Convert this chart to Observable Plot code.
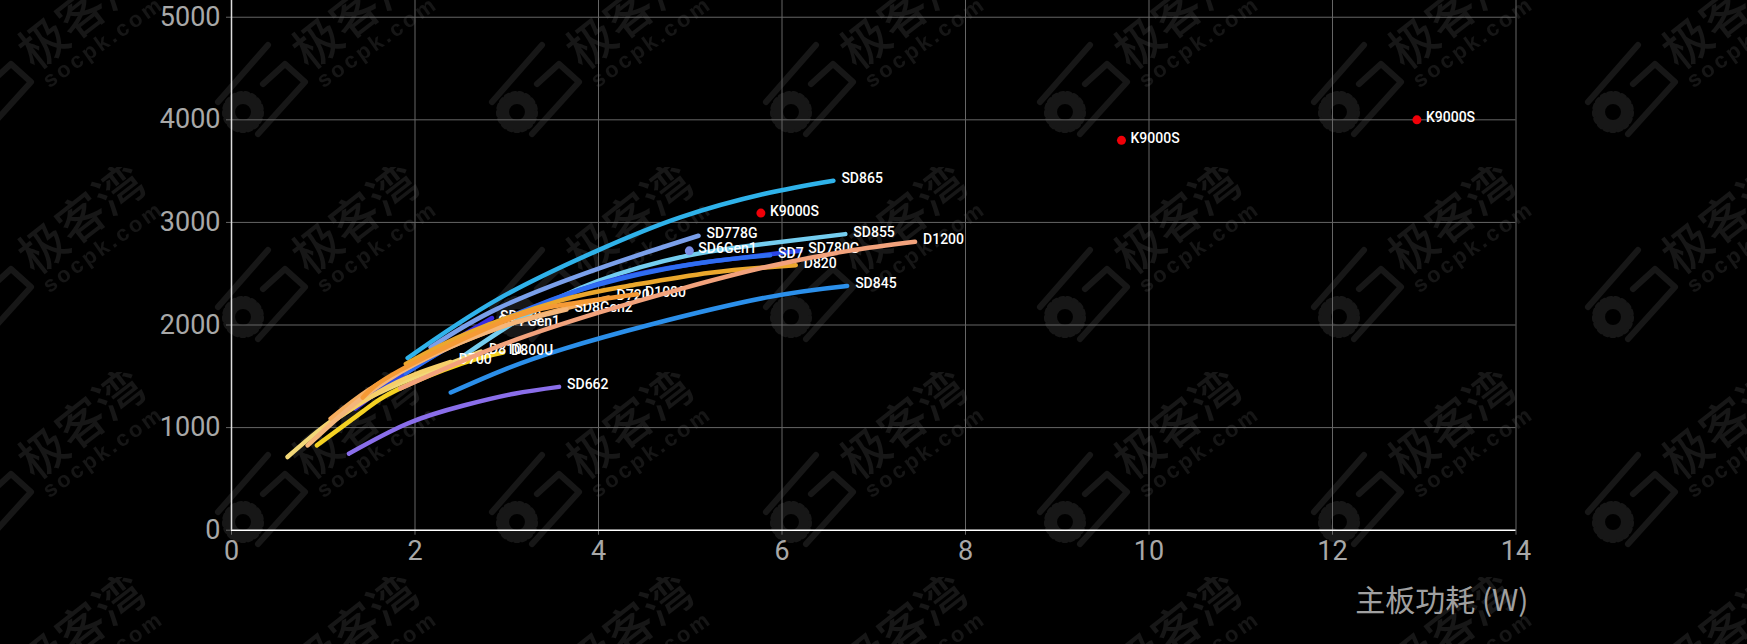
<!DOCTYPE html>
<html><head><meta charset="utf-8">
<script src="https://cdn.jsdelivr.net/npm/d3@7"></script>
<script src="https://cdn.jsdelivr.net/npm/@observablehq/plot@0.6"></script>
<style>
html,body{margin:0;padding:0;background:#000;width:1747px;height:644px;overflow:hidden}
#wm{position:absolute;left:0;top:0}
#chart{position:absolute;left:0;top:0}
#chart svg{background:transparent;display:block}
</style></head><body>
<svg id="wm" width="1747" height="644" aria-hidden="true">
<defs><pattern id="tile" width="274" height="205" patternUnits="userSpaceOnUse" x="-79" y="-38">
<g transform="translate(60,120)" fill="none" stroke="#171717" stroke-linecap="round" stroke-linejoin="round">
<path d="M13,-37L-37,20" stroke-width="6"/>
<path d="M8,2L30,-18L50,0L3,52" stroke-width="6"/>
<circle cx="-12" cy="30" r="13" stroke-width="10"/>
<circle cx="-12" cy="30" r="19" stroke-width="4" stroke-dasharray="3.5 3.5"/>
<text transform="translate(103,-65) rotate(-38)" text-anchor="middle" dominant-baseline="middle" font-family="Noto Sans CJK SC" font-size="48" font-weight="500" fill="#171717" stroke="none">极客湾</text>
<text transform="translate(123,-39) rotate(-35)" text-anchor="middle" dominant-baseline="middle" font-family="Liberation Sans" font-size="22" font-weight="700" letter-spacing="3" fill="#161616" stroke="none">socpk.com</text>
</g></pattern></defs>
<rect width="1747" height="644" fill="url(#tile)"/>
</svg>
<div id="chart"></div>
<script>
const xTicks = [0,2,4,6,8,10,12,14];
const yTicks = [0,1000,2000,3000,4000,5000];
const xTitle = "主板功耗 (W)";

const sd662 = [[1.28,746],[1.92,1040],[2.53,1215],[3.08,1330],[3.57,1397]];
const sd845 = [[2.39,1342],[3,1575],[3.63,1770],[4.57,2005],[5.82,2267],[6.71,2381]];
const sd865 = [[1.92,1678],[2.9,2250],[4,2730],[4.89,3049],[5.8,3277],[6.56,3407]];
const sd778g = [[2.17,1782],[2.9,2160],[4,2550],[5.09,2870]];
const sd888 = [[1.35,1186],[2.0,1610],[2.84,2068]];
const sd4gen1 = [[1.7,1420],[2.2,1730],[2.82,2010]];
const sd855 = [[2.53,1700],[3.2,2090],[4,2430],[4.96,2674],[5.8,2790],[6.69,2886]];
const sd780g = [[1.5,1300],[2.2,1700],[3,2060],[4,2400],[5,2590],[6.2,2723]];
const sd7 = [[1.9,1530],[2.6,1900],[3.3,2180],[4,2395],[5,2590],[5.87,2680]];
const d820 = [[1.9,1620],[2.6,1930],[3.59,2240],[4.32,2380],[5.22,2510],[6.15,2583]];
const d800u = [[0.93,827],[1.44,1163],[1.81,1370],[2.5,1620],[2.96,1731]];
const d810 = [[0.61,713],[1.05,1040],[1.5,1290],[2,1491],[2.72,1740]];
const d700 = [[1.0,1000],[1.6,1345],[2,1520],[2.39,1640]];
const d720 = [[1.08,1087],[1.5,1370],[2,1620],[2.5,1830],[3,2000],[3.5,2130],[4.11,2268]];
const d1080 = [[1.43,1293],[1.84,1560],[2.93,2023],[3.6,2195],[4.42,2300]];
const sd8gen2 = [[0.83,826],[1.41,1280],[2,1620],[2.5,1830],[3,2000],[3.65,2150]];
const d1200 = [[1.84,1381],[2.9,1790],[4,2120],[4.89,2350],[5.8,2560],[6.71,2720],[7.45,2811]];

const k9000s = [[5.77,3091],[9.7,3800],[12.92,4000]];
const sd6gen1 = [[4.99,2723]];

const seriesList = [
  ["SD662",sd662,"#8a6eea"],["SD845",sd845,"#2b8fea"],["SD865",sd865,"#2fb2ea"],
  ["SD778G",sd778g,"#7a9fea"],["SD888",sd888,"#3b2ce2"],["SD4 Gen1",sd4gen1,"#4d7ff0"],
  ["SD855",sd855,"#74cdf0"],["SD780G",sd780g,"#2b46e8"],["SD7",sd7,"#2f6df2"],
  ["D820",d820,"#eba72c"],["D800U",d800u,"#f5d222"],["D810",d810,"#f2d878"],
  ["D700",d700,"#f5cf6a"],["D720",d720,"#f6ad5e"],["SD8Gen2",sd8gen2,"#f5b67a"],
  ["D1080",d1080,"#f59a35"],["D1200",d1200,"#f2a27c"]
];
const toRows = (name,pts)=>pts.map(([x,y])=>({name,x,y}));
const label = "'Roboto',sans-serif";

const marks = [
  Plot.ruleX(xTicks.slice(1),{stroke:"#666",strokeWidth:1}),
  Plot.ruleY(yTicks.slice(1),{stroke:"#666",strokeWidth:1}),
  Plot.axisX({ticks:xTicks,tickSize:5,tickPadding:6,stroke:"#666",color:"#a8a8a8",fontSize:27,label:null,tickFormat:d=>String(d),fontFamily:label}),
  Plot.axisY({ticks:yTicks,tickSize:5,tickPadding:6,stroke:"#666",color:"#a8a8a8",fontSize:27,label:null,tickFormat:d=>String(d),fontFamily:label}),
  Plot.ruleX([0],{stroke:"#ddd",strokeWidth:1.5}),
  Plot.ruleY([0],{stroke:"#fff",strokeWidth:1.5}),
  ...seriesList.flatMap(([name,pts,color])=>[
    Plot.line(toRows(name,pts),{x:"x",y:"y",stroke:color,strokeWidth:4.5,strokeLinecap:"round",curve:"natural"}),
    Plot.text(toRows(name,pts).slice(-1),{x:"x",y:"y",text:"name",fill:"#fff",fontSize:14,fontWeight:500,fontFamily:label,textAnchor:"start",dx:8,dy:-2})
  ]),
  Plot.dot(toRows("SD6Gen1",sd6gen1),{x:"x",y:"y",r:4.5,fill:"#7b8fe8"}),
  Plot.text(toRows("SD6Gen1",sd6gen1),{x:"x",y:"y",text:"name",fill:"#fff",fontSize:14,fontWeight:500,fontFamily:label,textAnchor:"start",dx:9,dy:-2}),
  Plot.dot(toRows("K9000S",k9000s),{x:"x",y:"y",r:4.5,fill:"#f00008"}),
  Plot.text(toRows("K9000S",k9000s),{x:"x",y:"y",text:"name",fill:"#fff",fontSize:14,fontWeight:500,fontFamily:label,textAnchor:"start",dx:9,dy:-2}),
  Plot.text([xTitle],{frameAnchor:"bottom-right",text:d=>d,dx:12.5,dy:71,fill:"#a0a0a0",fontSize:30,fontFamily:"'Noto Sans CJK SC',sans-serif",textAnchor:"end",lineAnchor:"middle"})
];

const chart = Plot.plot({
  width:1747,height:644,
  marginLeft:231,marginRight:231.5,marginTop:0,marginBottom:114.3,
  style:{background:"transparent",overflow:"visible"},
  x:{domain:[0,14]},
  y:{domain:[0,5163]},
  marks
});
document.getElementById("chart").append(chart);
</script>
</body></html>
